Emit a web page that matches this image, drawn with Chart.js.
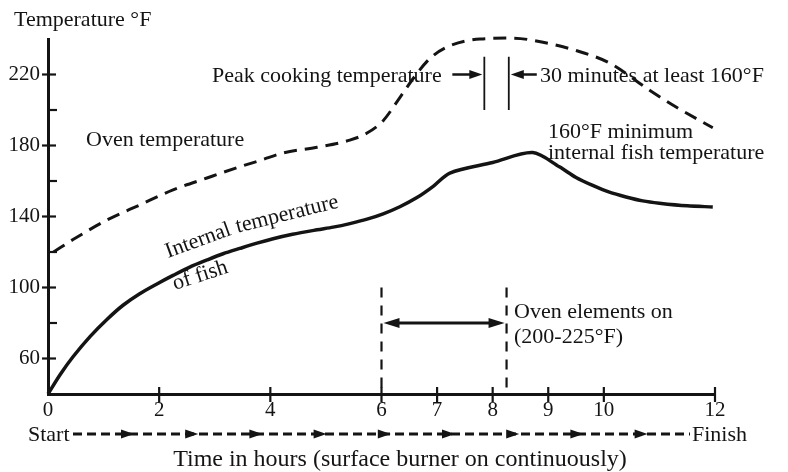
<!DOCTYPE html>
<html><head><meta charset="utf-8">
<script src="https://cdn.jsdelivr.net/npm/chart.js@4"></script>
<style>html,body{margin:0;padding:0;background:#fff}#wrap{width:788px;height:472px}</style>
</head><body><div id="wrap"><canvas id="c" width="788" height="472"></canvas></div>
<script>
// ---- data (hours, °F) ----
const fishHours = [0,0.22,0.45,0.76,1.06,1.35,1.65,1.96,2.25,2.55,2.86,3.15,3.45,3.76,4.05,4.4,4.84,5.13,5.43,5.74,6.03,6.33,6.63,6.93,7.23,8.0,8.72,9.2,9.5,9.8,10.1,10.4,10.7,11.0,11.5,11.96];
const fishTemp  = [40,51,61,72.5,82,90,96.5,102,106.8,111.5,115.5,119,122,125,127.5,130,132.5,134,136,138.5,141.5,145.5,150.5,157,164.5,170.4,176,168,162,157.5,153.7,151,148.8,147.5,146,145.4];
const ovenHours = [0.1,0.45,1.06,1.65,2.25,2.86,3.45,3.81,4.23,4.84,5.43,5.74,6.03,6.33,6.6,6.87,7.18,7.77,8.36,8.97,9.5,10.1,10.83,11.3,11.96];
const ovenTemp  = [120,127,138,146.5,155,161.7,168,171.5,175.8,179,183,187,194,207,219,229,235.5,240,240.5,237.7,233.5,226.5,211,201.7,190];
const xTickValues = [0,2,4,6,7,8,9,10,12];
const yTickValues = [60,100,140,180,220];
const yMinorTickValues = [80,120,160,200];
const peakWindowHours = [7.85,8.29];
const peakWindowTemps = [200,230];
const peakArrowTemp = 220;
const ovenElementsHours = [6,8.25];
const ovenElementsTemps = [40,100];
const ovenArrowTemp = 80;

const FONT = "'Liberation Serif', 'Times New Roman', serif";
const INK = '#141414';

function pts(xs, ys){ return xs.map((v,i)=>({x:v,y:ys[i]})); }

function arrowHead(ctx, tx, ty, dx, dy, len, hw){
  const n = Math.hypot(dx,dy); dx/=n; dy/=n;
  const bx = tx - dx*len, by = ty - dy*len;
  ctx.beginPath();
  ctx.moveTo(tx,ty);
  ctx.lineTo(bx - dy*hw, by + dx*hw);
  ctx.lineTo(bx + dy*hw, by - dx*hw);
  ctx.closePath(); ctx.fill();
}
function seg(ctx,x1,y1,x2,y2){ ctx.beginPath(); ctx.moveTo(x1,y1); ctx.lineTo(x2,y2); ctx.stroke(); }

const annot = {
  id:'annot',
  afterDraw(chart){
    const {ctx, scales:{x,y}, chartArea:ca} = chart;
    ctx.save();
    ctx.strokeStyle = INK; ctx.fillStyle = INK; ctx.lineCap='butt';
    // axis tick marks
    ctx.lineWidth = 2.2;
    yTickValues.forEach(v=>{const p=y.getPixelForValue(v); seg(ctx,ca.left-6,p,ca.left+8,p);});
    yMinorTickValues.forEach(v=>{const p=y.getPixelForValue(v); seg(ctx,ca.left,p,ca.left+9,p);});
    xTickValues.filter(v=>v>0).forEach(v=>{const p=x.getPixelForValue(v); seg(ctx,p,ca.bottom-7,p,ca.bottom+8);});

    // peak window lines and arrows
    ctx.lineWidth = 1.8;
    const pl = x.getPixelForValue(peakWindowHours[0]), pr = x.getPixelForValue(peakWindowHours[1]);
    const pt = y.getPixelForValue(peakWindowTemps[1]), pb = y.getPixelForValue(peakWindowTemps[0]);
    seg(ctx,pl,pt,pl,pb); seg(ctx,pr,pt,pr,pb);
    const ay = y.getPixelForValue(peakArrowTemp);
    ctx.lineWidth = 2.5;
    seg(ctx,pl-32,ay,pl-12,ay); arrowHead(ctx,pl-2,ay,1,0,13,4.5);
    seg(ctx,pr+12,ay,pr+28,ay); arrowHead(ctx,pr+2,ay,-1,0,13,4.5);

    // oven elements dashed lines and double arrow
    const ol = x.getPixelForValue(ovenElementsHours[0]), orr = x.getPixelForValue(ovenElementsHours[1]);
    const ot = y.getPixelForValue(ovenElementsTemps[1]), ob = y.getPixelForValue(ovenElementsTemps[0]);
    ctx.lineWidth = 2.2; ctx.setLineDash([10,8]);
    seg(ctx,ol,ot,ol,ob); seg(ctx,orr,ot,orr,ob);
    ctx.setLineDash([]);
    const oy = y.getPixelForValue(ovenArrowTemp);
    ctx.lineWidth = 2.8;
    seg(ctx,ol+10,oy,orr-10,oy);
    arrowHead(ctx,ol+2,oy,-1,0,16,5); arrowHead(ctx,orr-2,oy,1,0,16,5);

    // Start ... Finish row
    const rowY = 434;
    ctx.lineWidth = 3; ctx.setLineDash([9,5]);
    seg(ctx,73,rowY,690,rowY);
    ctx.setLineDash([]);
    for(let i=0;i<9;i++){ const tip = 134 + i*64.2; arrowHead(ctx,tip,rowY,1,0,13,4.5); }

    // texts
    ctx.textBaseline='alphabetic'; ctx.textAlign='left';
    ctx.font = `22px ${FONT}`;
    ctx.fillText('Temperature °F', 14, 26);
    ctx.fillText('Oven temperature', 86, 146);
    ctx.fillText('Peak cooking temperature', 212, 82);
    ctx.fillText('30 minutes at least 160°F', 540, 82);
    ctx.fillText('160°F minimum', 548, 138);
    ctx.fillText('internal fish temperature', 548, 159);
    ctx.fillText('Oven elements on', 514, 318);
    ctx.fillText('(200-225°F)', 514, 343);
    ctx.fillText('Start', 28, 441);
    ctx.fillText('Finish', 692, 441);
    ctx.font = `24px ${FONT}`;
    ctx.textAlign='center';
    ctx.fillText('Time in hours (surface burner on continuously)', 400, 466);
    // rotated curve labels
    ctx.textAlign='left';
    ctx.font = `22px ${FONT}`;
    ctx.save(); ctx.translate(168,258); ctx.rotate(-20*Math.PI/180);
    ctx.fillText('Internal', 0, 0);
    const w = ctx.measureText('Internal ').width; ctx.restore();
    const ex = 168 + w*Math.cos(-20*Math.PI/180), ey = 258 + w*Math.sin(-20*Math.PI/180);
    ctx.save(); ctx.translate(ex,ey); ctx.rotate(-14*Math.PI/180); ctx.fillText('temperature',0,0); ctx.restore();
    ctx.save(); ctx.translate(175,290); ctx.rotate(-18*Math.PI/180); ctx.fillText('of fish',0,0); ctx.restore();
    ctx.restore();
  }
};

new Chart(document.getElementById('c'), {
  type:'line',
  data:{ datasets:[
    { label:'Internal temperature of fish', data: pts(fishHours,fishTemp), borderColor:INK, borderWidth:3.5, tension:0.3, pointRadius:0, fill:false, clip:false },
    { label:'Oven temperature', data: pts(ovenHours,ovenTemp), borderColor:INK, borderWidth:3, borderDash:[13,8], cubicInterpolationMode:'monotone', pointRadius:0, fill:false, clip:false }
  ]},
  options:{
    responsive:false, animation:false, devicePixelRatio:1,
    layout:{ padding:{ left:0, right:73, top:39, bottom:0 } },
    plugins:{ legend:{display:false}, tooltip:{enabled:false}, title:{display:false} },
    scales:{
      x:{ type:'linear', min:0, max:12,
        afterBuildTicks: s=>{ s.ticks = xTickValues.map(v=>({value:v})); },
        afterFit: s=>{ s.height = 78; },
        grid:{ display:false, drawTicks:false },
        border:{ display:true, color:INK, width:3 },
        ticks:{ autoSkip:false, maxRotation:0, padding:4, color:INK, font:{ family:FONT, size:21 } } },
      y:{ type:'linear', min:40, max:240,
        afterBuildTicks: s=>{ s.ticks = yTickValues.map(v=>({value:v})); },
        afterFit: s=>{ s.width = 48; },
        grid:{ display:false, drawTicks:false },
        border:{ display:true, color:INK, width:3 },
        ticks:{ autoSkip:false, padding:8, color:INK, font:{ family:FONT, size:21 } } }
    }
  },
  plugins:[annot]
});
</script></body></html>
